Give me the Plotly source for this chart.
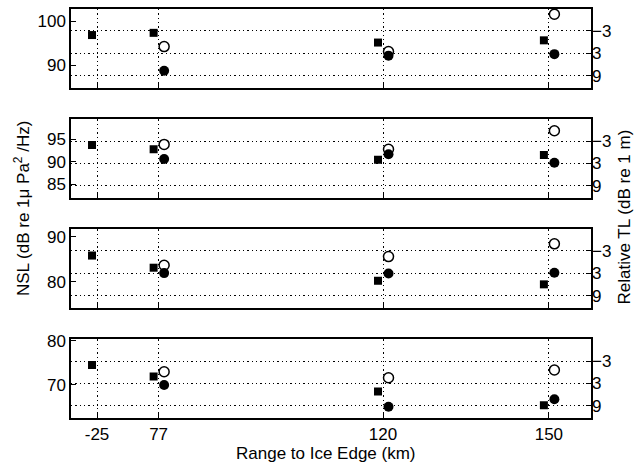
import plotly.graph_objects as go

# ---- data ----
range_labels = ["-25", "77", "120", "150"]
# position of each station along the (non-linear) x axis, in axis units 0..100
station_axis_pos = [5.0, 16.85, 60.0, 91.9]

# NSL (squares, left axis) for each panel, at all four stations
nsl_p1 = [96.9, 97.4, 95.2, 95.7]
nsl_p2 = [93.7, 92.8, 90.4, 91.5]
nsl_p3 = [85.8, 83.1, 80.2, 79.4]
nsl_p4 = [74.5, 71.9, 68.5, 65.4]

# Relative TL (circles, right axis) at stations 77, 120, 150
tl_open_p1 = [1.2, 2.5, -7.4]
tl_open_p2 = [-2.1, -0.8, -5.75]
tl_open_p3 = [0.8, -1.5, -4.9]
tl_open_p4 = [-0.15, 1.45, -0.6]

tl_fill_p1 = [7.6, 3.6, 3.2]
tl_fill_p2 = [1.8, 0.55, 2.8]
tl_fill_p3 = [2.9, 3.0, 2.8]
tl_fill_p4 = [3.4, 9.2, 7.2]

nsl_ticks = [[90, 100], [85, 90, 95], [80, 90], [70, 80]]
tl_ticks = [-3, 3, 9]

# ---- layout constants ----
nsl_ranges = [[84.9, 102.8], [81.87, 99.47], [74.15, 91.64], [62.55, 80.3]]
tl_range = [12.2, -8.79]
domains = [[0.8068, 1.0], [0.5379, 0.7303], [0.269, 0.4614], [0.0, 0.1924]]
sq_off = -0.96
ci_off = 1.06

nsl_all = [nsl_p1, nsl_p2, nsl_p3, nsl_p4]
tl_open_all = [tl_open_p1, tl_open_p2, tl_open_p3, tl_open_p4]
tl_fill_all = [tl_fill_p1, tl_fill_p2, tl_fill_p3, tl_fill_p4]

font = dict(family="Liberation Sans, Arial, sans-serif", size=17, color="black")
fig = go.Figure()

for i in range(4):
    n = i + 1
    xa = "x" if n == 1 else f"x{n}"
    ya = "y" if n == 1 else f"y{n}"
    yr = f"y{n + 4}"
    xs_sq = [p + sq_off for p in station_axis_pos]
    xs_ci = [p + ci_off for p in station_axis_pos[1:]]
    fig.add_trace(go.Scatter(x=xs_sq, y=nsl_all[i], mode="markers", xaxis=xa, yaxis=ya,
                             marker=dict(symbol="square", size=8, color="black"),
                             showlegend=False, name="NSL"))
    fig.add_trace(go.Scatter(x=xs_ci, y=tl_open_all[i], mode="markers", xaxis=xa, yaxis=yr,
                             marker=dict(symbol="circle", size=10, color="white",
                                         line=dict(color="black", width=1.5)),
                             showlegend=False, name="TL open", cliponaxis=True))
    fig.add_trace(go.Scatter(x=xs_ci, y=tl_fill_all[i], mode="markers", xaxis=xa, yaxis=yr,
                             marker=dict(symbol="circle", size=10, color="black"),
                             showlegend=False, name="TL filled"))

    xkey = "xaxis" if n == 1 else f"xaxis{n}"
    ykey = "yaxis" if n == 1 else f"yaxis{n}"
    yrkey = f"yaxis{n + 4}"
    fig.layout[xkey] = dict(
        domain=[0, 1], range=[0, 100], anchor=ya,
        tickvals=station_axis_pos, ticktext=range_labels,
        showticklabels=(n == 4), ticks="inside", ticklen=5, tickcolor="black",
        showgrid=True, gridcolor="black", griddash="1.3px,3px", gridwidth=1,
        showline=True, mirror=True, linecolor="black", linewidth=1.5,
        zeroline=False, tickfont=font,
    )
    fig.layout[ykey] = dict(
        domain=domains[i], range=nsl_ranges[i], anchor=xa,
        tickvals=nsl_ticks[i], ticks="inside", ticklen=5, tickcolor="black",
        showgrid=False, showline=True, mirror=True, linecolor="black", linewidth=1.5,
        zeroline=False, tickfont=font,
    )
    fig.layout[yrkey] = dict(
        domain=domains[i], range=tl_range, anchor=xa, overlaying=ya, side="right",
        tickvals=tl_ticks, ticks="inside", ticklen=5, tickcolor="black",
        showgrid=True, gridcolor="black", griddash="1.3px,3px", gridwidth=1,
        showline=False, zeroline=False, tickfont=font,
    )

fig.update_layout(
    width=634, height=467,
    margin=dict(l=71, r=43, t=9, b=49, autoexpand=False),
    paper_bgcolor="white", plot_bgcolor="white",
    font=font,
    annotations=[
        dict(text="NSL (dB re 1\u03bc Pa<sup>2</sup> /Hz)", xref="paper", yref="paper",
             x=-0.0952, y=0.512, textangle=-90, showarrow=False, font=font,
             xanchor="center", yanchor="middle"),
        dict(text="Relative TL (dB re 1 m)", xref="paper", yref="paper",
             x=1.064, y=0.491, textangle=-90, showarrow=False, font=font,
             xanchor="center", yanchor="middle"),
        dict(text="Range to Ice Edge (km)", xref="paper", yref="paper",
             x=0.491, y=-0.088, showarrow=False, font=font,
             xanchor="center", yanchor="middle"),
    ],
)

fig.write_html("out.html", config={"displayModeBar": False},
               post_script="document.body.style.margin='0';")
